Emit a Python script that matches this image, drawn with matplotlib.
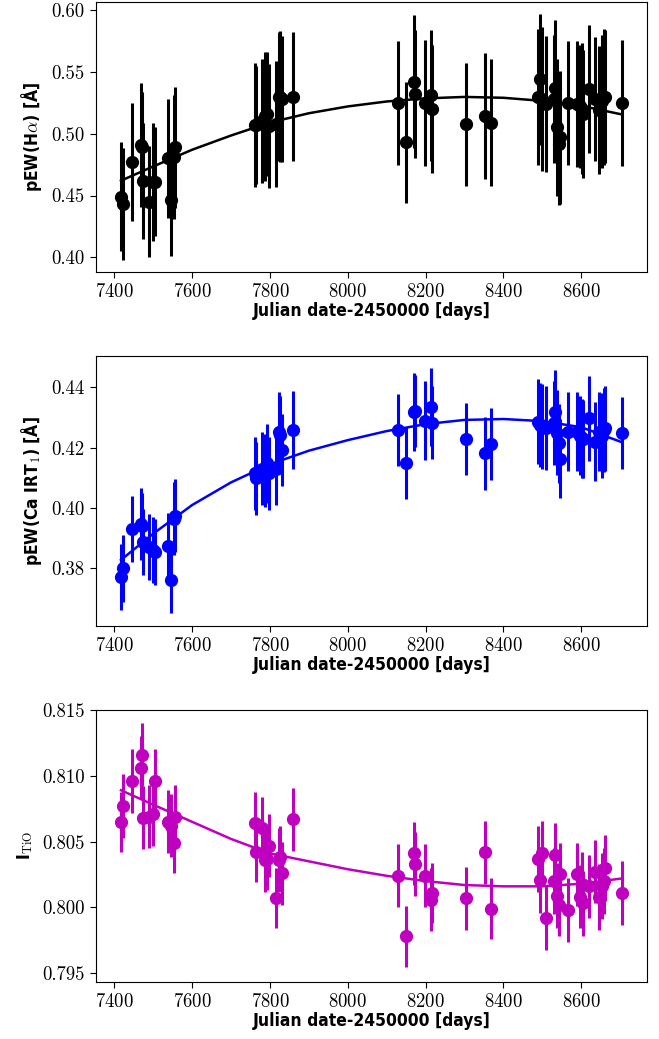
import numpy as np
import matplotlib
matplotlib.use("Agg")
import matplotlib.pyplot as plt

plt.rcParams['font.family'] = 'cmr10'
plt.rcParams['axes.formatter.use_mathtext'] = True
plt.rcParams['mathtext.fontset'] = 'cm'

# observation dates (JD - 2450000)
jd = [7417, 7421, 7445, 7468, 7470, 7474, 7490, 7499, 7504, 7539, 7545, 7553, 7557,
      7762, 7765, 7779, 7786, 7792, 7798, 7816, 7822, 7826, 7832, 7860,
      8130, 8150, 8170, 8172, 8199, 8213, 8216, 8304, 8353, 8367,
      8488, 8493, 8499, 8509, 8530, 8533, 8537, 8542, 8546, 8567, 8589,
      8597, 8602, 8606, 8619, 8636, 8645, 8653, 8658, 8662, 8705]

# pEW(H alpha)
ha = [0.449, 0.443, 0.477, 0.491, 0.489, 0.462, 0.445, 0.461, 0.461, 0.480, 0.446, 0.481, 0.489,
      0.507, 0.507, 0.510, 0.514, 0.516, 0.506, 0.508, 0.530, 0.530, 0.528, 0.530,
      0.525, 0.493, 0.542, 0.532, 0.525, 0.531, 0.520, 0.5075, 0.514, 0.509,
      0.530, 0.544, 0.528, 0.524, 0.528, 0.537, 0.505, 0.492, 0.497, 0.525, 0.524,
      0.522, 0.520, 0.516, 0.536, 0.528, 0.519, 0.526, 0.530, 0.530, 0.525]
ha_err = [0.044, 0.045, 0.048, 0.050, 0.045, 0.047, 0.045, 0.048, 0.044, 0.048, 0.045, 0.050, 0.049,
          0.050, 0.048, 0.050, 0.052, 0.050, 0.050, 0.051, 0.052, 0.053, 0.051, 0.052,
          0.050, 0.049, 0.054, 0.052, 0.051, 0.053, 0.052, 0.050, 0.051, 0.051,
          0.055, 0.053, 0.058, 0.055, 0.052, 0.055, 0.055, 0.050, 0.054, 0.050, 0.051,
          0.050, 0.053, 0.052, 0.052, 0.050, 0.052, 0.054, 0.055, 0.054, 0.051]

# pEW(Ca IRT1)
ca = [0.3772, 0.3800, 0.3930, 0.3947, 0.3940, 0.3888, 0.3870, 0.3861, 0.3855, 0.3874, 0.3761, 0.3965, 0.3975,
      0.4115, 0.4098, 0.4131, 0.4125, 0.4148, 0.4115, 0.4130, 0.4253, 0.4242, 0.4192, 0.4259,
      0.4259, 0.4150, 0.4319, 0.4322, 0.4290, 0.4334, 0.4283, 0.4228, 0.4181, 0.4212,
      0.4286, 0.4275, 0.4270, 0.4265, 0.4281, 0.4319, 0.4250, 0.4214, 0.4164, 0.4253, 0.4253,
      0.4240, 0.4231, 0.4228, 0.4297, 0.4220, 0.4253, 0.4240, 0.4258, 0.4264, 0.4249]
ca_err = [0.011, 0.011, 0.011, 0.012, 0.011, 0.011, 0.011, 0.011, 0.011, 0.011, 0.011, 0.012, 0.012,
          0.012, 0.012, 0.012, 0.012, 0.013, 0.012, 0.012, 0.013, 0.013, 0.012, 0.013,
          0.012, 0.012, 0.013, 0.012, 0.013, 0.013, 0.012, 0.012, 0.012, 0.012,
          0.014, 0.014, 0.014, 0.014, 0.014, 0.014, 0.014, 0.013, 0.013, 0.013, 0.013,
          0.013, 0.013, 0.013, 0.014, 0.013, 0.013, 0.014, 0.014, 0.014, 0.012]

# TiO index
tio = [0.8065, 0.8077, 0.8096, 0.8106, 0.8116, 0.8068, 0.8069, 0.8071, 0.8096, 0.8065, 0.8062, 0.8049, 0.8069,
       0.8064, 0.8042, 0.8060, 0.8036, 0.8037, 0.8047, 0.8007, 0.8036, 0.8038, 0.8026, 0.8067,
       0.8024, 0.7978, 0.8041, 0.8033, 0.8024, 0.8006, 0.8011, 0.8007, 0.8042, 0.7999,
       0.8037, 0.8021, 0.8041, 0.7992, 0.8020, 0.8040, 0.8009, 0.8002, 0.8025, 0.7998, 0.8025,
       0.8008, 0.8018, 0.8003, 0.8016, 0.8027, 0.8008, 0.8016, 0.8020, 0.8030, 0.8011]
tio_err = [0.0023, 0.0024, 0.0024, 0.0024, 0.0024, 0.0024, 0.0024, 0.0024, 0.0024, 0.0024, 0.0024, 0.0023, 0.0024,
           0.0024, 0.0023, 0.0024, 0.0024, 0.0024, 0.0024, 0.0023, 0.0024, 0.0024, 0.0024, 0.0024,
           0.0024, 0.0023, 0.0024, 0.0024, 0.0024, 0.0024, 0.0023, 0.0024, 0.0024, 0.0023,
           0.0025, 0.0025, 0.0025, 0.0024, 0.0025, 0.0024, 0.0025, 0.0024, 0.0024, 0.0024, 0.0024,
           0.0024, 0.0024, 0.0025, 0.0024, 0.0024, 0.0025, 0.0025, 0.0025, 0.0025, 0.0024]

fit_jd = [7417, 7500, 7600, 7700, 7800, 7900, 8000, 8100, 8200, 8300, 8400, 8500, 8600, 8705]
ha_fit = [0.462, 0.4735, 0.487, 0.4985, 0.509, 0.5165, 0.522, 0.526, 0.5285, 0.5297, 0.529, 0.5265, 0.5225, 0.5155]
ca_fit = [0.3828, 0.3915, 0.4010, 0.4085, 0.4145, 0.4190, 0.4225, 0.4255, 0.4278, 0.4292, 0.4295, 0.4288, 0.4268, 0.4218]
tio_fit = [0.8089, 0.8078, 0.8065, 0.8052, 0.8041, 0.8035, 0.8029, 0.8024, 0.8020, 0.8017, 0.8016, 0.8016, 0.8018, 0.8022]

lab_font = dict(family='DejaVu Sans', weight='bold', stretch='condensed', size=12.5)

fig = plt.figure(figsize=(6.59, 10.39), dpi=100)
ax1 = fig.add_axes([0.1452, 0.7385, 0.8370, 0.2593])
ax2 = fig.add_axes([0.1452, 0.3975, 0.8370, 0.2599])
ax3 = fig.add_axes([0.1452, 0.0552, 0.8370, 0.2615])

panels = [
    (ax1, ha, ha_err, ha_fit, 'k', r'pEW(H$\mathbf{\alpha}$) [Å]', (0.3884, 0.6062), [0.40, 0.45, 0.50, 0.55, 0.60]),
    (ax2, ca, ca_err, ca_fit, 'b', r'pEW(Ca IRT$_\mathbf{1}$) [Å]', (0.3609, 0.4504), [0.38, 0.40, 0.42, 0.44]),
    (ax3, tio, tio_err, tio_fit, 'm', r'I$_\mathrm{TiO}$', (0.79436, 0.8150), [0.795, 0.800, 0.805, 0.810, 0.815]),
]

for ax, y, yerr, yfit, col, lab, ylim, yt in panels:
    ax.errorbar(jd, y, yerr=yerr, fmt='o', color=col, ms=8.5, elinewidth=2.2, capsize=0)
    ax.plot(fit_jd, yfit, '-', color=col, lw=1.8)
    ax.set_xlim(7352, 8770)
    ax.set_ylim(*ylim)
    ax.set_xticks([7400, 7600, 7800, 8000, 8200, 8400, 8600])
    ax.set_yticks(yt)
    if ax is ax3:
        ax.set_yticklabels(['%.3f' % v for v in yt])
    else:
        ax.set_yticklabels(['%.2f' % v for v in yt])
    ax.tick_params(labelsize=13.5, direction='out', length=4.5)
    ax.set_xlabel('Julian date-2450000 [days]', fontdict=lab_font, labelpad=1)
    ax.set_ylabel(lab, fontdict=lab_font, labelpad=5)

fig.savefig('out.png', dpi=100)
